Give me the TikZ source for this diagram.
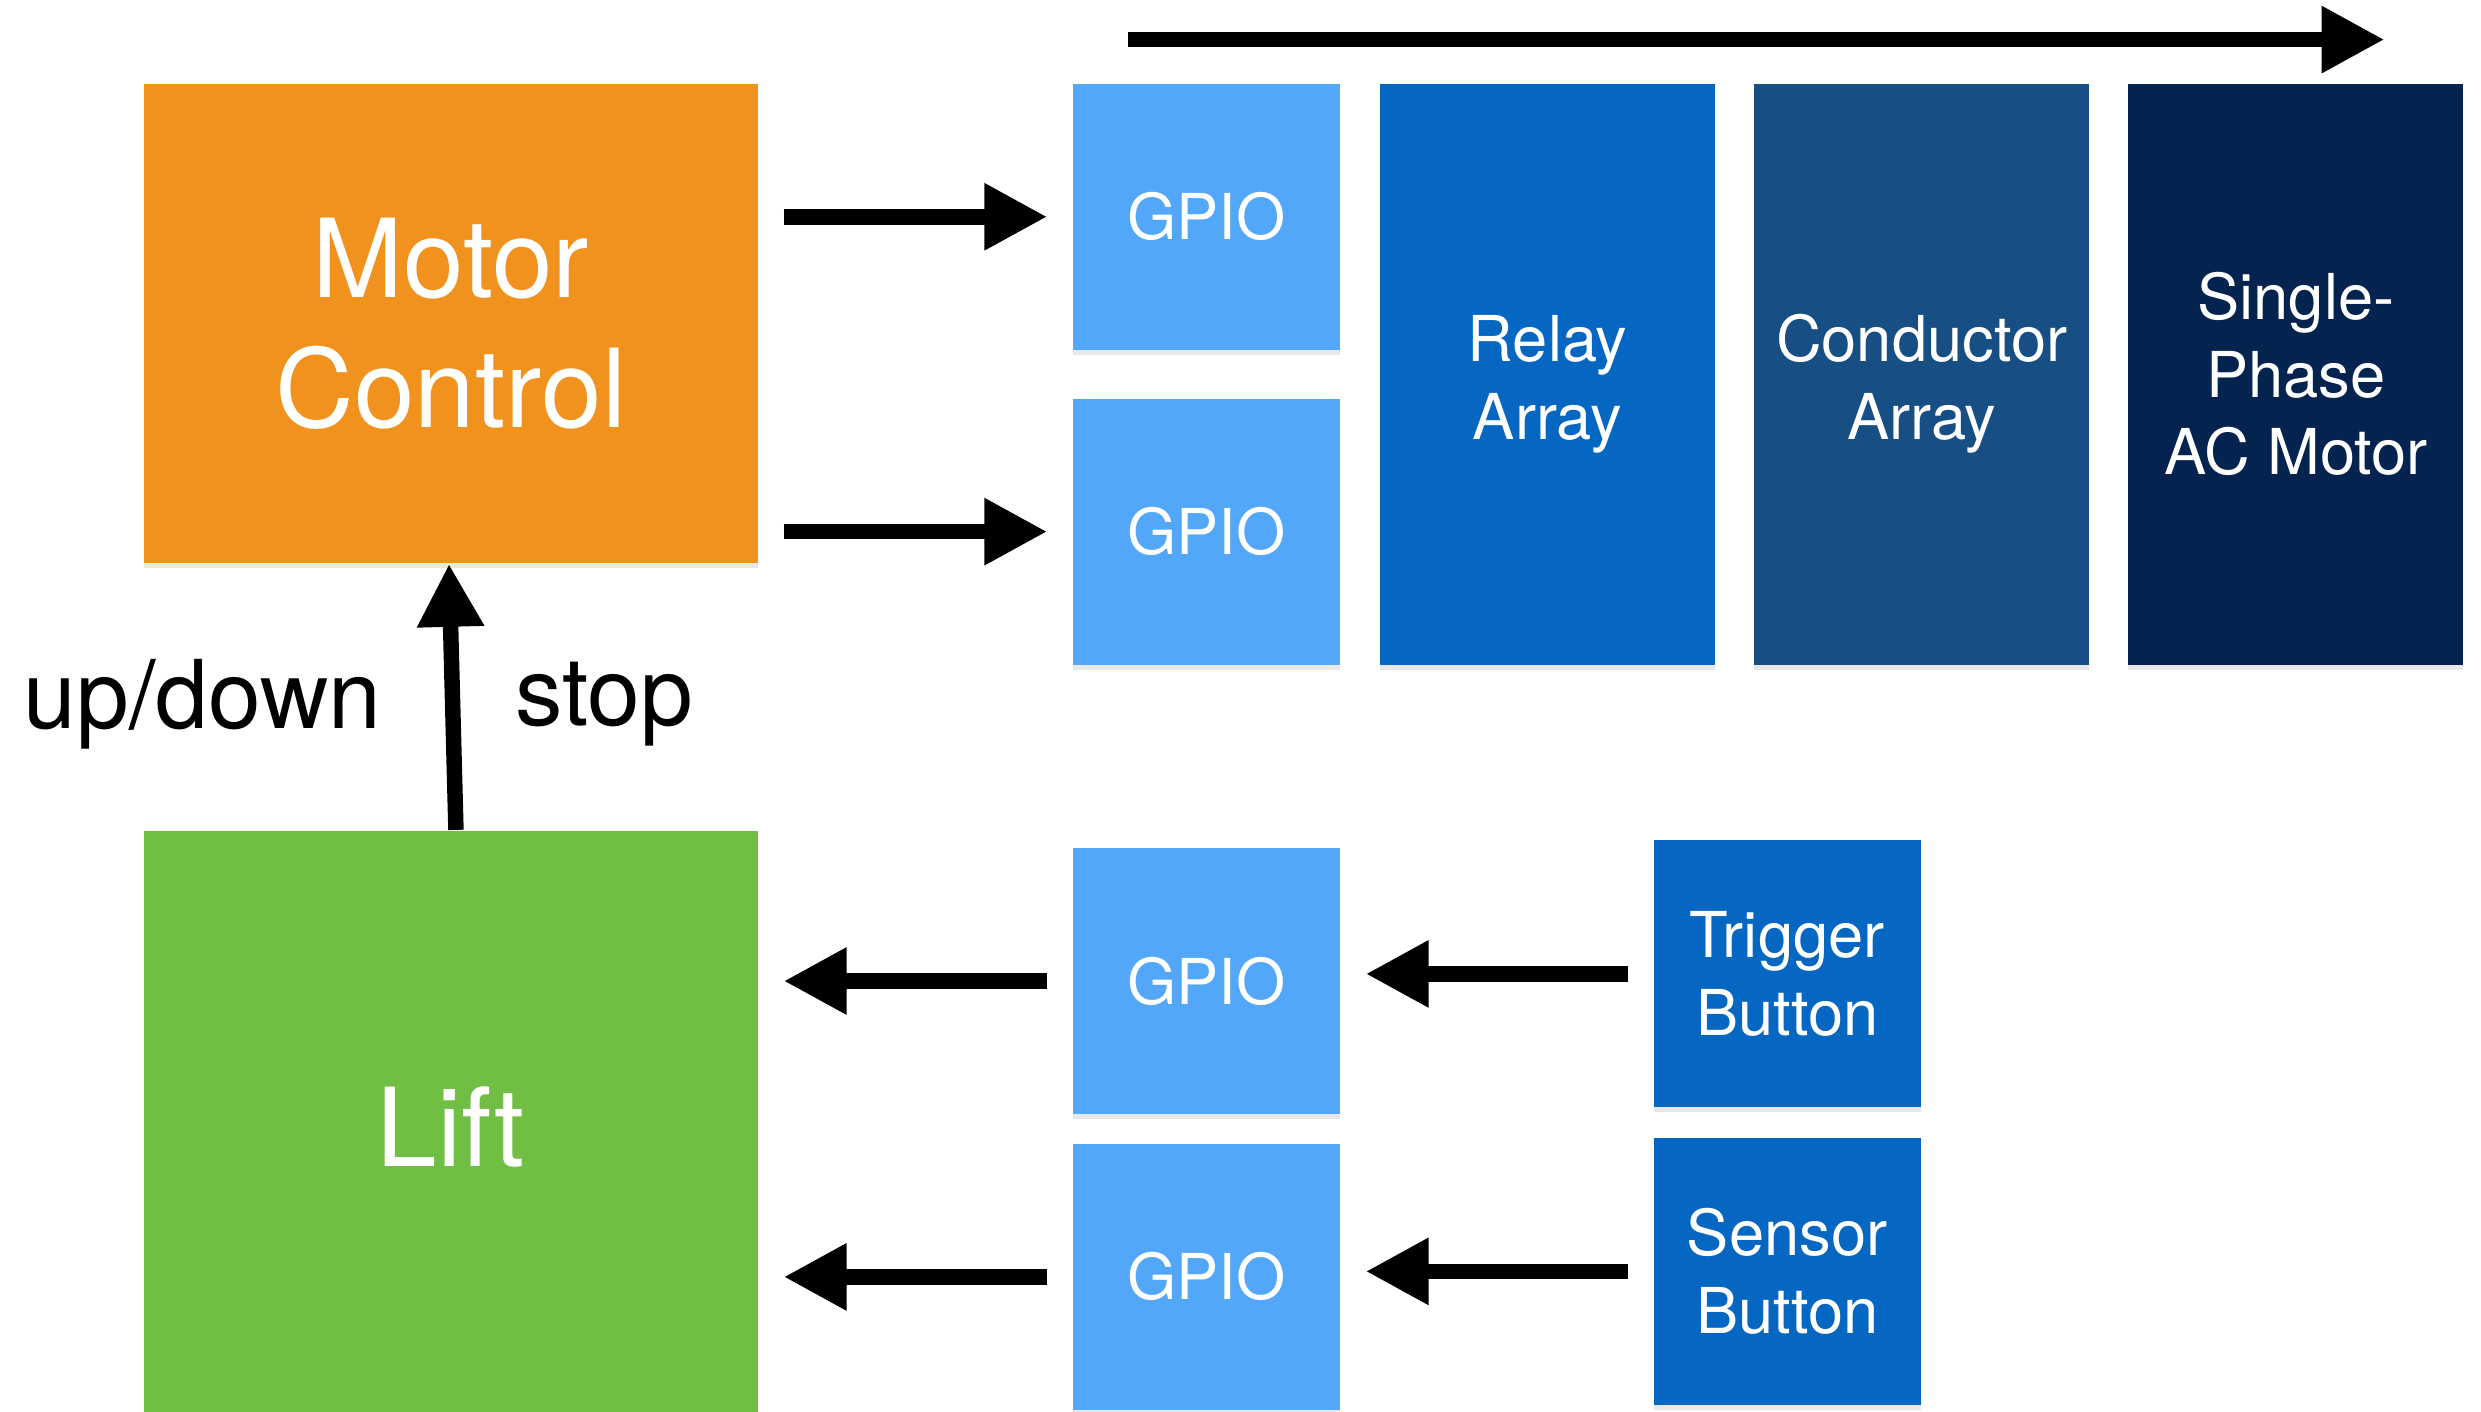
\documentclass[tikz,border=0pt]{standalone}
\usepackage{fontspec}
\setmainfont{TeX Gyre Heros}
\usetikzlibrary{arrows.meta,positioning,shadows}
\definecolor{mcorange}{RGB}{242,146,30}
\definecolor{liftgreen}{RGB}{112,191,68}
\definecolor{gpioblue}{RGB}{82,167,248}
\definecolor{relayblue}{RGB}{5,103,194}
\definecolor{condblue}{RGB}{23,78,132}
\definecolor{motorblue}{RGB}{4,35,79}
\newcommand{\lowtwo}[2]{\raisebox{-2.6mm}[0pt][0pt]{\begin{tabular}{@{}c@{}}#1\\#2\end{tabular}}}

\begin{document}
\begin{tikzpicture}[x=0.015823cm,y=-0.015823cm,
every node/.style={rectangle, inner sep=0pt, text=white, align=center, font=\fontsize{18}{22}\selectfont},
box/.style={drop shadow={shadow xshift=0pt,shadow yshift=-0.5mm,opacity=0.18}},
gpio/.style={box, fill=gpioblue, minimum width=2.67cm, minimum height=2.66cm},
tall/.style={box, minimum width=3.35cm, minimum height=5.81cm},
btn/.style={box, fill=relayblue, minimum width=2.67cm, minimum height=2.67cm},
arr/.style={line width=4.4pt, -{Triangle[length=6.3mm,width=6.3mm]}, shorten <=2.5mm, shorten >=2.5mm}]
\useasboundingbox (0,0) rectangle (1568,892);
\node[box, fill=mcorange, minimum width=6.14cm, minimum height=4.79cm, font=\fontsize{31}{37}\selectfont] (MC) at (285,204.5) {Motor\\Control};
\node[box, fill=liftgreen, minimum width=6.14cm, minimum height=5.92cm, font=\fontsize{31}{37}\selectfont] (L) at (285,712) {Lift};
\node[gpio] (G1) at (762.5,137) {GPIO};
\node[gpio] (G2) at (762.5,336) {GPIO};
\node[gpio] (G3) at (762.5,620) {GPIO};
\node[gpio] (G4) at (762.5,807) {GPIO};
\node[tall, fill=relayblue] (RA) at (978,236.5) {\lowtwo{Relay}{Array}};
\node[tall, fill=condblue] (CA) at (1214.5,236.5) {\lowtwo{Conductor}{Array}};
\node[tall, fill=motorblue] (M) at (1451,236.5) {Single-\\Phase\\AC Motor};
\node[btn] (TB) at (1129.5,615.5) {Trigger\\Button};
\node[btn] (SB) at (1129.5,803.5) {Sensor\\Button};
\node[text=black, font=\fontsize{27}{32}\selectfont] (UD) at (128,445) {up/down};
\node[text=black, font=\fontsize{27}{32}\selectfont] (ST) at (382,445) {stop};
\coordinate (S) at (713,25);
\coordinate (E) at (1507,25);
\draw[arr, shorten <=0pt, shorten >=0pt] (S) -- (E);
\draw[arr] (MC.east |- G1.west) -- (G1.west);
\draw[arr] (MC.east |- G2.west) -- (G2.west);
\draw[arr] (G3.west) -- (L.east |- G3.west);
\draw[arr] (G4.west) -- (L.east |- G4.west);
\draw[arr] (TB.west) -- (G3.east |- TB.west);
\draw[arr] (SB.west) -- (G4.east |- SB.west);
\draw[arr, shorten <=0pt, shorten >=0pt] ([xshift=0.5mm]L.north) -- ([xshift=-0.2mm]MC.south);
\end{tikzpicture}
\end{document}
